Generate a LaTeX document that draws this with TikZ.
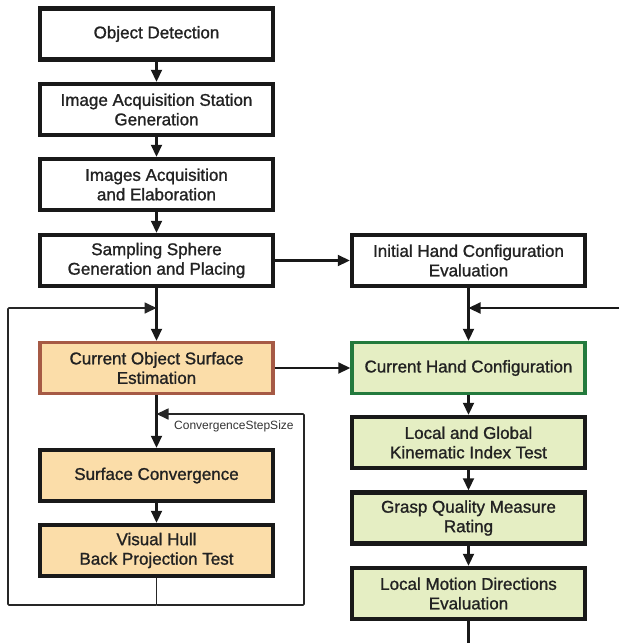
\documentclass[tikz,border=0pt]{standalone}
\usepackage{fontspec}
\setmainfont{Liberation Sans}
\newfontfamily\boxfont[FakeBold=1.2]{Liberation Sans}
\usetikzlibrary{arrows.meta}
\definecolor{orfill}{HTML}{FBDDA9}
\definecolor{orline}{HTML}{A65A45}
\definecolor{grfill}{HTML}{E5EEC3}
\definecolor{grline}{HTML}{237A3D}
\definecolor{txt}{HTML}{222222}
\begin{document}
\begin{tikzpicture}[x=1pt,y=-1pt,
  box/.style={draw=black!90,line width=4.5pt,fill=white,minimum width=233pt,minimum height=51pt,
    align=center,font=\boxfont\fontsize{17}{19.5}\selectfont,text=txt,inner sep=2pt},
  obox/.style={box,fill=orfill,draw=orline,line width=3.5pt},
  gbox/.style={box,fill=grfill,draw=grline,line width=3.5pt},
  ybox/.style={box,fill=grfill},
  pbox/.style={box,fill=orfill},
  tip/.tip={Triangle[length=12pt,width=11pt]},
  arr/.style={line width=2.2pt,draw=black!90,-tip},
  ln/.style={line width=2.2pt,draw=black!90},
  fb/.style={line width=1.7pt,draw=black!85,rounded corners=1pt},
  lbl/.style={font=\fontsize{12}{14}\selectfont,text=black!80,anchor=west,inner sep=0pt}]
\useasboundingbox (0,0) rectangle (619,643);
% left column
\node[box] (od) at (156.5,34) {Object Detection};
\node[box] (ias) at (156.5,109.5) {Image Acquisition Station\\Generation};
\node[box] (iae) at (156.5,184.5) {Images Acquisition\\and Elaboration};
\node[box] (ssg) at (156.5,260.5) {Sampling Sphere\\Generation and Placing};
\node[obox] (cos) at (156.5,368) {Current Object Surface\\Estimation};
\node[pbox] (sc) at (156.5,475.5) {Surface Convergence};
\node[pbox] (vh) at (156.5,550.5) {Visual Hull\\Back Projection Test};
% right column
\node[box] (ihc) at (468.5,260.5) {Initial Hand Configuration\\Evaluation};
\node[gbox] (chc) at (468.5,368) {Current Hand Configuration};
\node[ybox] (lgk) at (468.5,442.5) {Local and Global\\Kinematic Index Test};
\node[ybox] (gqm) at (468.5,518) {Grasp Quality Measure\\Rating};
\node[ybox] (lmd) at (468.5,593.5) {Local Motion Directions\\Evaluation};
% junctions
\coordinate (j1) at (156.5,308);
\coordinate (j2) at (156.5,414);
\coordinate (jb) at (156.5,605);
\coordinate (jr) at (468.5,308);
\coordinate (rin) at (619,308);
\coordinate (rout) at (468.5,643);
% main arrows
\draw[arr] (od) -- (ias);
\draw[arr] (ias) -- (iae);
\draw[arr] (iae) -- (ssg);
\draw[arr] (ssg) -- (cos);
\draw[arr] (cos) -- (sc);
\draw[arr] (sc) -- (vh);
\draw[arr] (ssg) -- (ihc);
\draw[arr] (cos) -- (chc);
\draw[arr] (ihc) -- (chc);
\draw[arr] (chc) -- (lgk);
\draw[arr] (lgk) -- (gqm);
\draw[arr] (gqm) -- (lmd);
\draw[ln] (lmd) -- (rout);
\draw[arr] (rin) -- (jr);
% feedback loops
\draw[fb] (vh) -- (jb);
\draw[fb,-tip] (jb) -- (8,605) -- (8,308) -- (j1);
\draw[fb,-tip] (jb) -- (304,605) -- (304,414) -- (j2);
\node[lbl] (css) at (174,426) {ConvergenceStepSize};
\end{tikzpicture}
\end{document}
